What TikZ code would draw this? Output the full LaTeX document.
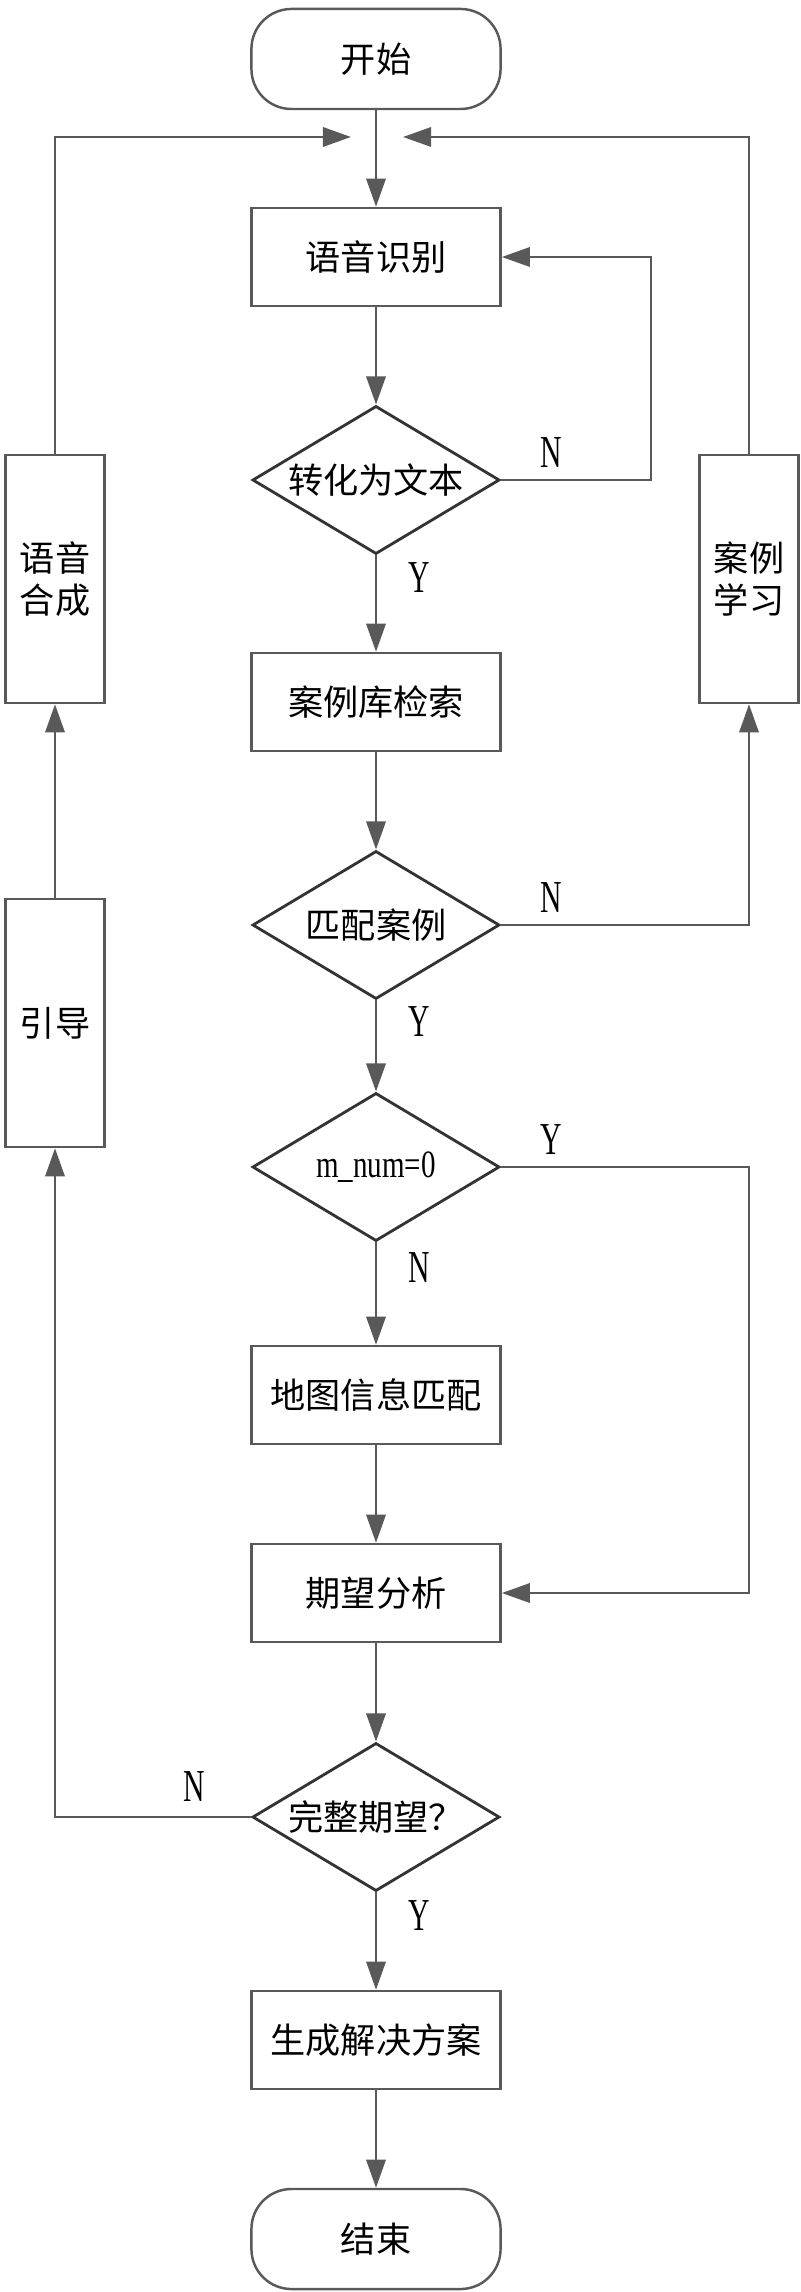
\documentclass[tikz,border=0pt]{standalone}
\usepackage{fontspec}
\setmainfont{Liberation Serif}
\newfontfamily\cjk{Noto Sans CJK SC}
\newfontfamily\latin[FakeStretch=0.65]{Liberation Serif}
\newfontfamily\code[FakeStretch=0.75]{Liberation Serif}
\usetikzlibrary{shapes.geometric,arrows.meta}
\tikzset{proc/.style={draw=black!65, line width=0.7pt, minimum width=2.49cm, minimum height=0.98cm, font=\cjk\fontsize{10pt}{12pt}\selectfont},
  term/.style={proc, rounded corners=0.4cm, minimum height=1cm},
  decide/.style={diamond, draw=black!80, line width=0.8pt, minimum width=2.47cm, minimum height=1.48cm, aspect=1.67, inner sep=0pt, font=\cjk\fontsize{10pt}{12pt}\selectfont},
  side/.style={proc, minimum width=0.99cm, minimum height=2.48cm, align=center},
  yn/.style={font=\latin\fontsize{13pt}{15pt}\selectfont, inner sep=0pt},
  arr/.style={draw=black!65, line width=0.7pt, -{Triangle[length=8pt,width=5.5pt]}}}

\begin{document}
\begin{tikzpicture}[x=0.01cm,y=-0.01cm]
   \useasboundingbox (0,0) rectangle (800,2292);
   \node[term] (start) at (376,59) {开始};
   \node[proc] (asr) at (376,257) {语音识别};
   \node[decide] (totext) at (376,480) {转化为文本};
   \node[proc] (search) at (376,702) {案例库检索};
   \node[decide] (match) at (376,925) {匹配案例};
   \node[decide] (mnum) at (376,1167) {\code\fontsize{11pt}{13pt}\selectfont m\_num=0};
   \node[proc] (map) at (376,1395) {地图信息匹配};
   \node[proc] (expect) at (376,1593) {期望分析};
   \node[decide] (full) at (376,1817) {完整期望？};
   \node[proc] (plan) at (376,2040) {生成解决方案};
   \node[term] (stop) at (376,2239) {结束};
   \node[side] (synth) at (55,579) {语音\\合成};
   \node[side] (guide) at (55,1023) {引导};
   \node[side] (learn) at (749,579) {案例\\学习};
   \node[yn] (n1) at (551,453) {N};
   \node[yn] (y1) at (419,578) {Y};
   \node[yn] (n2) at (551,898) {N};
   \node[yn] (y2) at (419,1022) {Y};
   \node[yn] (y3) at (551,1140) {Y};
   \node[yn] (n3) at (419,1268) {N};
   \node[yn] (n4) at (194,1787) {N};
   \node[yn] (y4) at (419,1916) {Y};
   \coordinate (tipL) at (351,137);
   \coordinate (tipR) at (403,137);
   \coordinate (loopA) at (651,257);
   \coordinate (loopB) at (749,1593);
   \draw[arr] (start) -- (asr);
   \draw[arr] (asr) -- (totext);
   \draw[arr] (totext) -- (search);
   \draw[arr] (search) -- (match);
   \draw[arr] (match) -- (mnum);
   \draw[arr] (mnum) -- (map);
   \draw[arr] (map) -- (expect);
   \draw[arr] (expect) -- (full);
   \draw[arr] (full) -- (plan);
   \draw[arr] (plan) -- (stop);
   \draw[arr] (totext.east) -| (loopA) -- (asr.east);
   \draw[arr] (match.east) -| (learn.south);
   \draw[arr] (mnum.east) -| (loopB) -- (expect.east);
   \draw[arr] (learn.north) |- (tipR);
   \draw[arr] (synth.north) |- (tipL);
   \draw[arr] (guide) -- (synth);
   \draw[arr] (full.west) -| (guide.south);
  \end{tikzpicture}
\end{document}
